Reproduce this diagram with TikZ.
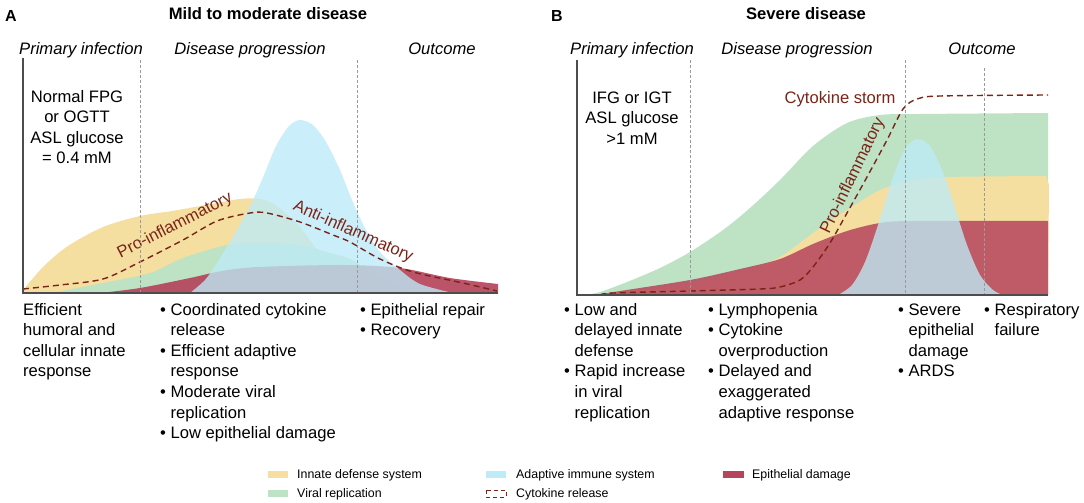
\documentclass[tikz,border=0pt]{standalone}
\usepackage{fontspec}
\setmainfont{Liberation Sans}
\usepackage{tikz}
\usetikzlibrary{positioning}

\definecolor{innate}{HTML}{F4DFA1}
\definecolor{viral}{HTML}{BEE3C4}
\definecolor{adaptive}{HTML}{BDEBF8}
\definecolor{epith}{HTML}{B5455C}
\definecolor{cyto}{HTML}{7A2418}
\definecolor{axisgray}{HTML}{4D4D4D}
\definecolor{divgray}{HTML}{9A9A9A}

\newcommand{\bodyfont}{\fontsize{16.6}{20.6}\selectfont}
\newcommand{\lines}[1]{\begin{tabular}[t]{@{}l@{}}#1\end{tabular}}
\newcommand{\items}[1]{\begin{tabular}[t]{@{}l@{\ }l@{}}#1\end{tabular}}

\begin{document}
\begin{tikzpicture}[x=1pt,y=-1pt,
    txt/.style={font=\bodyfont, inner sep=0pt, anchor=base west},
    head/.style={font=\bodyfont\itshape, inner sep=0pt, anchor=base},
    ttl/.style={font=\bodyfont\bfseries, inner sep=0pt, anchor=base},
    lab/.style={font=\bodyfont, text=cyto, inner sep=0pt},
    leg/.style={font=\fontsize{12.4}{14}\selectfont, inner sep=0pt, anchor=base west},
    divider/.style={divgray, line width=0.9pt, dash pattern=on 3pt off 2pt},
    axisline/.style={axisgray, line width=1.4pt},
    storm/.style={cyto, line width=1.4pt, dash pattern=on 6pt off 4pt}]
  \useasboundingbox (0,0) rectangle (1084,503);

  % panel A
  \node(tagA) at (11,16) [font=\fontsize{16}{18}\selectfont\bfseries, inner sep=0pt] {A};
  \node(titleA) at (268,20) [ttl] {Mild to moderate disease};
  \node(primA) at (81,55) [head] {Primary infection};
  \node(progA) at (250,55) [head] {Disease progression};
  \node(outA) at (442,55) [head] {Outcome};
  \node(glucA) at (77,127) [font=\bodyfont, align=center, inner sep=0pt] {Normal FPG\\or OGTT\\ASL glucose\\= 0.4 mM};

  \fill[innate] (23,293) -- plot[smooth] coordinates {(23,290) (44,266) (68,246) (103,227) (140,216)
    (172,211) (206,205) (240,199) (261,199) (277,206) (299,226) (320,253) (344,277) (371,293)} -- cycle;
  \fill[viral] (51,293) -- plot[smooth] coordinates {(51,293) (103,283) (150,273) (183,258)
    (227,245) (260,243) (300,245) (330,253) (350,259) (378,276) (413,293)} -- cycle;
  \fill[epith, opacity=0.92] (100,293) -- plot[smooth] coordinates {(100,293) (140,288) (190,278)
    (222,271) (258,267) (344,265) (400,268) (450,278) (498,284)} -- (498,293) -- cycle;
  \fill[adaptive, opacity=0.78] (190,293) -- plot[smooth] coordinates {(190,293) (205,280) (217,263)
    (237,230) (253,200) (264,175) (276,146) (289,126) (300,120) (313,125) (326,142) (340,170)
    (352,200) (365,228) (380,252) (400,270) (420,284) (453,293)} -- cycle;
  \draw[storm] plot[smooth] coordinates {(23,289) (60,285) (103,279) (140,262) (183,240)
    (217,221) (250,213) (267,213) (300,222) (333,235) (350,242) (380,259) (413,272) (463,283) (497,291)};
  \node(proA) at (175,226) [lab, rotate=27] {Pro-inflammatory};
  \node(antiA) at (353,232) [lab, rotate=-24] {Anti-inflammatory};

  \draw[divider] (140,60) -- (140,293);
  \draw[divider] (357,60) -- (357,293);
  \draw[axisline] (23,58) -- (23,293) -- (498,293);

  \node(effA) at (23,315) [txt] {\lines{Efficient\\humoral and\\cellular innate\\response}};
  \node(coordA) at (160,315) [txt] {\items{\textbullet & Coordinated cytokine\\ & release\\
    \textbullet & Efficient adaptive\\ & response\\ \textbullet & Moderate viral\\ & replication\\
    \textbullet & Low epithelial damage}};
  \node(repairA) at (360,315) [txt] {\items{\textbullet & Epithelial repair\\ \textbullet & Recovery}};

  % panel B
  \node(tagB) at (557,16) [font=\fontsize{16}{18}\selectfont\bfseries, inner sep=0pt] {B};
  \node(titleB) at (806,20) [ttl] {Severe disease};
  \node(primB) at (632,55) [head] {Primary infection};
  \node(progB) at (797,55) [head] {Disease progression};
  \node(outB) at (982,55) [head] {Outcome};
  \node(glucB) at (632,118) [font=\bodyfont, align=center, inner sep=0pt] {IFG or IGT\\ASL glucose\\>1 mM};

  \fill[viral] (585,295) -- plot[smooth] coordinates {(585,295) (600,292) (627,282) (660,268)
    (690,252) (723,230) (750,208) (780,180) (813,146) (847,123) (880,115) (920,114) (1048,113)} -- (1048,295) -- cycle;
  \fill[innate] (590,295) -- plot[smooth] coordinates {(590,295) (690,283) (750,268) (780,257)
    (813,233) (847,210) (880,190) (913,180) (947,177) (1046,176)} -- (1049,185) -- (1048,295) -- cycle;
  \fill[epith, opacity=0.85] (595,295) -- plot[smooth] coordinates {(595,295) (620,291) (690,280)
    (740,269) (780,259) (813,244) (847,231) (880,223) (913,221) (1048,221)} -- (1048,295) -- cycle;
  \fill[adaptive, opacity=0.78] (838,295) -- plot[smooth] coordinates {(838,295) (852,285) (865,262)
    (878,225) (892,180) (905,149) (917,139) (930,146) (943,172) (955,208) (967,245) (980,275)
    (993,290) (1003,295)} -- cycle;
  \draw[storm] plot[smooth] coordinates {(600,295) (613,293) (690,291) (760,289) (780,287) (800,280)
    (813,267) (830,243) (847,213) (867,177) (887,140) (903,109) (917,99) (940,96) (1048,95)};
  \node(storm) at (840,99) [lab] {Cytokine storm};
  \node(proB) at (853,176) [lab, rotate=64] {Pro-inflammatory};

  \draw[divider] (690,60) -- (690,295);
  \draw[divider] (905,60) -- (905,295);
  \draw[divider] (984,68) -- (984,295);
  \draw[axisline] (577,60) -- (577,295) -- (1048,295);

  \node(lowB) at (564,315) [txt] {\items{\textbullet & Low and\\ & delayed innate\\ & defense\\
    \textbullet & Rapid increase\\ & in viral\\ & replication}};
  \node(lymphB) at (708,315) [txt] {\items{\textbullet & Lymphopenia\\ \textbullet & Cytokine\\
    & overproduction\\ \textbullet & Delayed and\\ & exaggerated\\ & adaptive response}};
  \node(severeB) at (898,315) [txt] {\items{\textbullet & Severe\\ & epithelial\\ & damage\\ \textbullet & ARDS}};
  \node(respB) at (984,315) [txt] {\items{\textbullet & Respiratory\\ & failure}};

  % legend
  \fill[innate] (268,471) rectangle (288,478);
  \node(legInnate) at (297,478) [leg] {Innate defense system};
  \fill[viral] (268,490) rectangle (288,497);
  \node(legViral) at (297,497) [leg] {Viral replication};
  \fill[adaptive] (486,471) rectangle (506,478);
  \node(legAdaptive) at (516,478) [leg] {Adaptive immune system};
  \draw[cyto, line width=0.9pt, dash pattern=on 4pt off 3pt] (486,490) rectangle (506,497);
  \node(legCyto) at (516,497) [leg] {Cytokine release};
  \fill[epith] (723,471) rectangle (744,478);
  \node(legEpith) at (752,478) [leg] {Epithelial damage};
\end{tikzpicture}
\end{document}
